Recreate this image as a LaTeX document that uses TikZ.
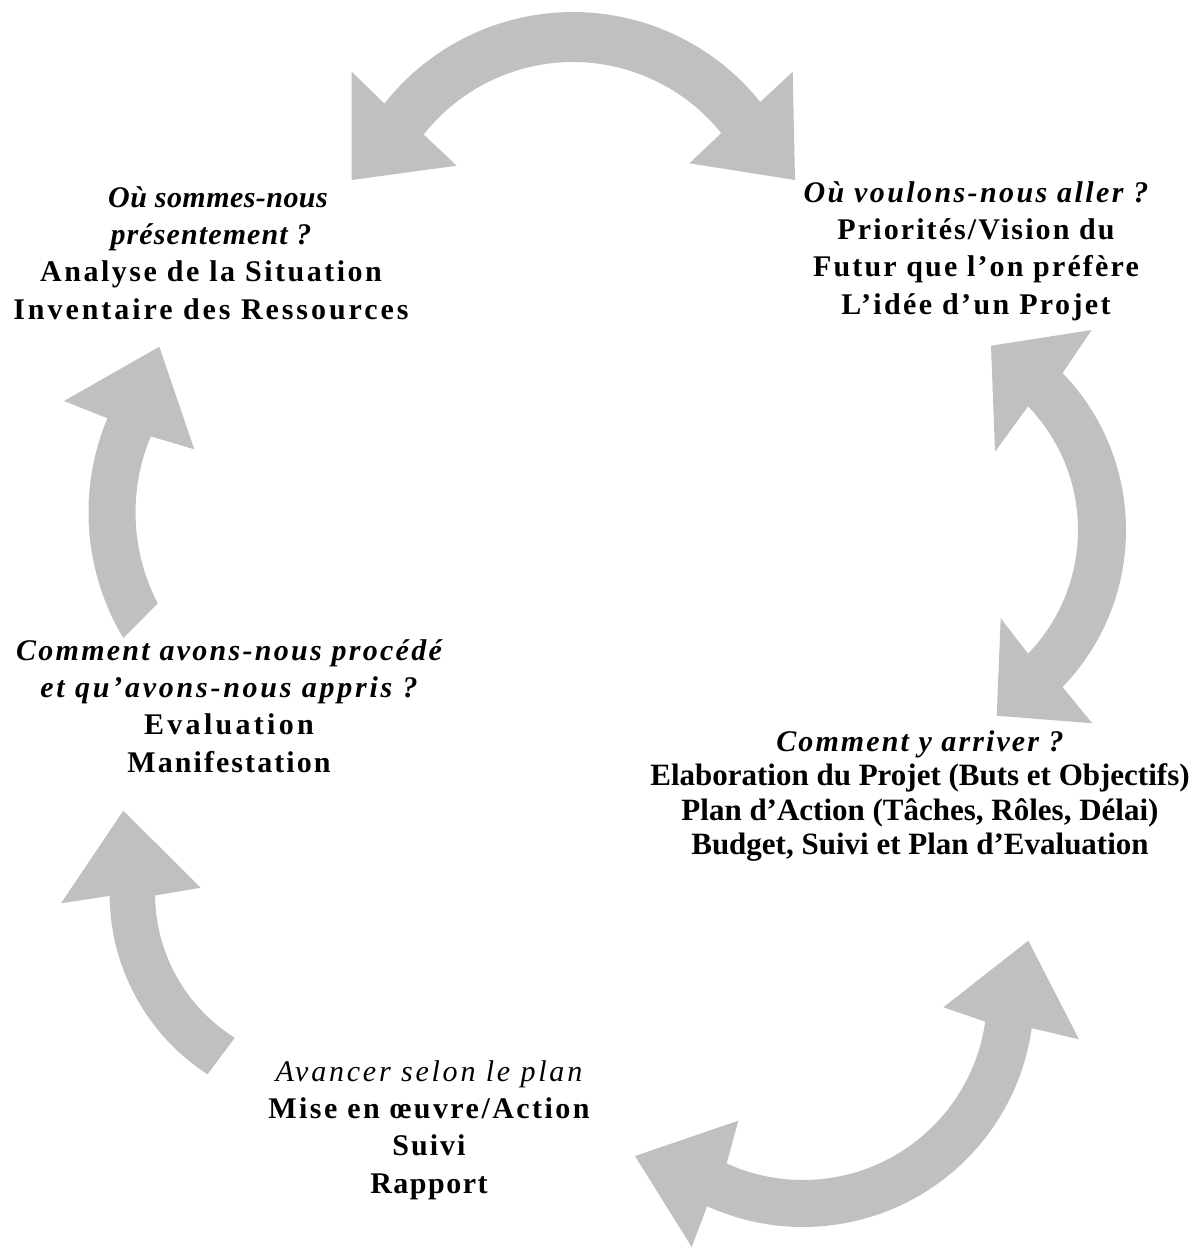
\documentclass[tikz,border=0pt]{standalone}
\usepackage{fontspec}
\setmainfont{Liberation Serif}
\usetikzlibrary{calc}
\definecolor{arrowgray}{RGB}{192,192,192}
\newcommand{\lsBI}[2]{{\bfseries\itshape\addfontfeature{LetterSpace=#1}#2}}
\newcommand{\lsB}[2]{{\bfseries\addfontfeature{LetterSpace=#1}#2}}
\newcommand{\lsI}[2]{{\itshape\addfontfeature{LetterSpace=#1}#2}}
\begin{document}
\begin{tikzpicture}[x=0.5pt,y=-0.5pt,
  blk/.style={fill=arrowgray,draw=none},
  txt/.style={align=center,inner sep=0pt,font=\fontsize{15}{18.7}\selectfont},
  txtb/.style={align=center,inner sep=0pt,font=\fontsize{15.5}{17.3}\selectfont}]
\useasboundingbox (0,0) rectangle (1193,1249);

% top double arrow
\coordinate (c1) at (573,252);
\fill[blk] ($(c1)+(218.2:240)$) arc[start angle=218.2,end angle=321.3,radius=240]
  -- (792.7,71.7) -- (795,180) -- (689.3,163.3)
  -- ($(c1)+(321.3:190)$) arc[start angle=321.3,end angle=218.2,radius=190]
  -- (456.7,165.7) -- (351.7,180) -- (351.7,71.7) -- cycle;

% right double arrow
\coordinate (c2) at (900,530);
\fill[blk] ($(c2)+(-44:226)$) arc[start angle=-44,end angle=44,radius=226]
  -- (1092.3,723.3) -- (996.7,715.7) -- (1000.7,618.3)
  -- ($(c2)+(44:178)$) arc[start angle=44,end angle=-44,radius=178]
  -- (995,451.7) -- (991,345.7) -- (1091.7,330) -- cycle;

% left upper arrow
\coordinate (c3) at (332.5,512.4);
\fill[blk] ($(c3)+(149:244)$) arc[start angle=149,end angle=202.7,radius=244]
  -- (64,401) -- (159.3,346.7) -- (194.3,449.3)
  -- ($(c3)+(202.7:197)$) arc[start angle=202.7,end angle=152.5,radius=197] -- cycle;

% left lower arrow
\coordinate (c4) at (324.6,894);
\fill[blk] ($(c4)+(123:215)$) arc[start angle=123,end angle=179.5,radius=215]
  -- (61,903.3) -- (123.3,810.7) -- (200.7,887.7)
  -- ($(c4)+(179.5:169.5)$) arc[start angle=179.5,end angle=122,radius=169.5] -- cycle;

% bottom double arrow
\coordinate (c5) at (803,996);
\fill[blk] ($(c5)+(8:231)$) -- (1079,1039.3) -- (1028.3,940.7) -- (943.3,1007.3)
  -- ($(c5)+(8:184)$) arc[start angle=8,end angle=114.5,radius=184]
  -- (738.3,1120.7) -- (635,1156) -- (691.7,1247)
  -- ($(c5)+(114.5:231)$) arc[start angle=114.5,end angle=8,radius=231] -- cycle;

% texts
\node[txt] (t1) at (211,253) {\hspace*{7pt}\lsBI{1.5}{Où sommes-nous}\\
  \lsBI{3.7}{présentement ?}\\
  \lsB{8.3}{Analyse de la Situation}\\
  \lsB{9.8}{Inventaire des Ressources}};

\node[txt] (t2) at (976,251) {\lsBI{8}{Où voulons-nous aller ?}\\
  \lsB{7}{Priorités/Vision du}\\
  \lsB{7.2}{Futur que l’on préfère}\\
  \lsB{8}{L’idée d’un Projet}};

\node[txt] (t3) at (229,706) {\lsBI{7.6}{Comment avons-nous procédé}\\
  \lsBI{9.2}{et qu’avons-nous appris ?}\\
  \lsB{11}{Evaluation}\\
  \lsB{6.9}{Manifestation}};

\node[txtb] (t4) at (920,796) {{\fontsize{15}{17.3}\selectfont\lsBI{7}{Comment y arriver ?}}\\
  {\bfseries Elaboration du Projet (Buts et Objectifs)}\\
  {\bfseries Plan d’Action (Tâches, Rôles, Délai)}\\
  {\bfseries Budget, Suivi et Plan d’Evaluation}};

\node[txt] (t5) at (429,1130) {\lsI{9.3}{Avancer selon le plan}\\
  \lsB{8.2}{Mise en œuvre/Action}\\
  \lsB{6.7}{Suivi}\\
  \lsB{5}{Rapport}};
\end{tikzpicture}
\end{document}
